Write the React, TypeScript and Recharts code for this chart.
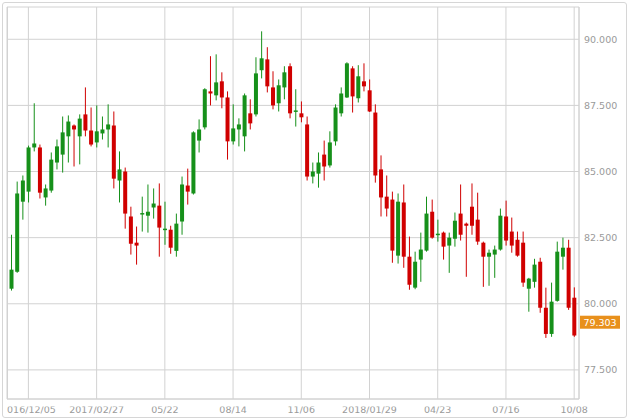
import React from 'react';
import { ComposedChart, Bar, XAxis, YAxis, CartesianGrid, ReferenceLine } from 'recharts';

// weekly candles, 2016/11/14 .. 2018/10/08
const weeks = [
  '2016/11/14', '2016/11/21', '2016/11/28', '2016/12/05', '2016/12/12', '2016/12/19', '2016/12/26',
  '2017/01/02', '2017/01/09', '2017/01/16', '2017/01/23', '2017/01/30', '2017/02/06', '2017/02/13',
  '2017/02/20', '2017/02/27', '2017/03/06', '2017/03/13', '2017/03/20', '2017/03/27', '2017/04/03',
  '2017/04/10', '2017/04/17', '2017/04/24', '2017/05/01', '2017/05/08', '2017/05/15', '2017/05/22',
  '2017/05/29', '2017/06/05', '2017/06/12', '2017/06/19', '2017/06/26', '2017/07/03', '2017/07/10',
  '2017/07/17', '2017/07/24', '2017/07/31', '2017/08/07', '2017/08/14', '2017/08/21', '2017/08/28',
  '2017/09/04', '2017/09/11', '2017/09/18', '2017/09/25', '2017/10/02', '2017/10/09', '2017/10/16',
  '2017/10/23', '2017/10/30', '2017/11/06', '2017/11/13', '2017/11/20', '2017/11/27', '2017/12/04',
  '2017/12/11', '2017/12/18', '2017/12/25', '2018/01/01', '2018/01/08', '2018/01/15', '2018/01/22',
  '2018/01/29', '2018/02/05', '2018/02/12', '2018/02/19', '2018/02/26', '2018/03/05', '2018/03/12',
  '2018/03/19', '2018/03/26', '2018/04/02', '2018/04/09', '2018/04/16', '2018/04/23', '2018/04/30',
  '2018/05/07', '2018/05/14', '2018/05/21', '2018/05/28', '2018/06/04', '2018/06/11', '2018/06/18',
  '2018/06/25', '2018/07/02', '2018/07/09', '2018/07/16', '2018/07/23', '2018/07/30', '2018/08/06',
  '2018/08/13', '2018/08/20', '2018/08/27', '2018/09/03', '2018/09/10', '2018/09/17', '2018/09/24',
  '2018/10/01', '2018/10/08',
];

const opens = [
  80.57, 81.21, 83.86, 84.24, 85.91, 85.91, 84.02, 84.28, 85.34, 85.64,
  86.33, 86.74, 86.33, 87.16, 86.55, 86.10, 86.44, 86.59, 86.74, 84.66,
  85.00, 83.30, 82.31, 83.39, 83.33, 83.64, 83.71, 82.82, 82.80, 82.00,
  83.11, 84.47, 84.17, 86.17, 86.67, 88.03, 87.88, 88.41, 87.80, 86.14,
  86.59, 86.33, 87.20, 87.16, 88.83, 89.24, 88.18, 87.58, 88.18, 88.98,
  87.27, 87.20, 86.78, 84.81, 84.92, 85.64, 85.23, 86.14, 87.20, 87.80,
  88.90, 87.77, 88.41, 88.07, 87.23, 85.08, 84.05, 83.94, 81.82, 83.83,
  81.78, 80.61, 81.67, 82.01, 83.48, 82.63, 82.69, 82.20, 82.46, 83.41,
  83.03, 83.67, 83.18, 82.31, 81.78, 81.86, 82.05, 83.30, 82.73, 82.42,
  82.31, 80.57, 80.83, 81.59, 79.85, 78.86, 80.11, 81.78, 82.12, 80.23,
];

const highs = [
  82.61, 84.62, 84.85, 85.98, 87.58, 86.02, 84.51, 85.72, 86.21, 87.08,
  87.12, 86.78, 87.16, 88.18, 87.42, 87.50, 87.08, 87.54, 87.27, 85.76,
  85.15, 83.67, 82.92, 84.05, 84.51, 84.36, 84.55, 83.86, 82.95, 83.41,
  84.81, 85.11, 86.52, 86.97, 88.15, 89.36, 89.43, 88.75, 88.03, 87.54,
  87.01, 87.95, 87.73, 89.32, 90.30, 89.70, 88.79, 88.48, 88.98, 89.09,
  88.11, 87.65, 87.08, 85.34, 85.72, 86.17, 86.52, 87.54, 88.18, 89.13,
  88.98, 89.02, 89.09, 88.48, 87.54, 85.61, 84.85, 84.24, 84.17, 84.51,
  82.54, 81.97, 82.69, 84.05, 83.94, 83.18, 82.73, 82.69, 83.45, 84.51,
  83.07, 84.55, 84.20, 82.35, 82.05, 82.20, 83.60, 83.90, 83.26, 82.73,
  82.73, 80.98, 81.70, 81.74, 80.61, 80.80, 82.35, 82.50, 82.42, 80.62,
];

const lows = [
  80.50, 81.17, 83.18, 83.83, 85.76, 83.98, 83.71, 84.20, 85.08, 84.96,
  85.34, 85.19, 85.27, 86.33, 85.95, 85.91, 86.21, 85.91, 84.36, 83.83,
  82.84, 81.86, 81.48, 82.73, 82.69, 83.22, 81.78, 82.23, 81.89, 81.78,
  82.61, 83.75, 84.13, 85.72, 86.59, 87.50, 87.69, 87.39, 85.45, 86.02,
  85.95, 85.76, 86.59, 87.08, 88.52, 87.99, 87.35, 87.27, 87.73, 87.01,
  86.70, 86.86, 84.66, 84.55, 84.39, 84.66, 85.15, 85.98, 87.08, 87.78,
  87.23, 87.61, 88.03, 87.25, 84.58, 83.30, 83.30, 81.55, 81.52, 81.36,
  80.53, 80.55, 80.83, 81.97, 82.46, 82.35, 81.67, 81.17, 82.16, 82.39,
  81.02, 82.61, 82.23, 80.64, 80.68, 80.98, 82.01, 82.20, 81.93, 81.78,
  80.64, 79.70, 80.61, 79.66, 78.71, 78.75, 80.08, 81.29, 79.77, 78.75,
];

const closes = [
  81.29, 84.17, 84.66, 85.91, 86.06, 84.20, 84.36, 85.45, 85.95, 86.48,
  86.89, 86.59, 87.00, 86.55, 86.02, 86.52, 86.59, 86.78, 84.73, 85.08,
  83.41, 82.27, 82.20, 83.43, 83.48, 83.79, 82.88, 82.84, 82.12, 83.03,
  84.51, 84.24, 86.48, 86.59, 88.11, 87.95, 88.37, 87.80, 86.14, 86.63,
  86.78, 87.88, 86.82, 88.71, 89.28, 88.22, 87.50, 88.26, 88.75, 87.20,
  87.31, 87.05, 84.81, 85.00, 85.34, 85.19, 86.10, 87.42, 87.95, 89.09,
  87.84, 88.60, 88.22, 87.27, 84.85, 84.02, 83.60, 82.01, 83.86, 81.78,
  80.72, 81.59, 82.05, 83.41, 82.50, 82.65, 82.16, 82.50, 83.14, 82.61,
  82.95, 82.95, 82.35, 81.78, 81.93, 82.05, 83.33, 82.39, 82.20, 81.82,
  80.80, 80.95, 81.48, 79.85, 78.86, 80.08, 81.97, 82.12, 79.85, 78.80,
];

const tickWeeks = ['2016/12/05', '2017/02/27', '2017/05/22', '2017/08/14', '2017/11/06', '2018/01/29', '2018/04/23', '2018/07/16', '2018/10/08'];
const tickLabels = ['2016/12/05', '2017/02/27', '05/22', '08/14', '11/06', '2018/01/29', '04/23', '07/16', '10/08'];
const priceTicks = [77.5, 80, 82.5, 85, 87.5, 90];
const lastPrice = 79.303;

const data = weeks.map((week, i) => ({
  week,
  open: opens[i],
  high: highs[i],
  low: lows[i],
  close: closes[i],
  range: [lows[i], highs[i]],
}));

const UP = '#16901a';
const DOWN = '#d00000';
const GRID = '#d2d2d2';
const LABEL = '#9a9a9a';
const FONT = '"DejaVu Sans", Verdana, sans-serif';
const MARGIN = { top: 7, right: 0, bottom: 0, left: 7 };

const Candle = (props: any) => {
  const { x, y, width, height } = props;
  const p = props.payload || props;
  const top = Math.min(y, y + height);
  const span = Math.abs(height);
  const perUnit = span / (p.high - p.low || 1);
  const toY = (v: number) => top + (p.high - v) * perUnit;
  const color = p.close >= p.open ? UP : DOWN;
  const cx = x + width / 2;
  const bodyTop = toY(Math.max(p.open, p.close));
  const bodyH = Math.max(1.5, Math.abs(toY(p.open) - toY(p.close)));
  return (
    <g>
      <line x1={cx} x2={cx} y1={top} y2={top + span} stroke={color} strokeWidth={1} />
      <rect x={cx - 2} y={bodyTop} width={4} height={bodyH} fill={color} />
    </g>
  );
};

const XTick = (props: any) => {
  const { x, y, payload } = props;
  const label = tickLabels[tickWeeks.indexOf(payload.value)];
  // labels are clipped at the left edge of the plot
  return (
    <svg x={MARGIN.left} y={y} width={620} height={14} overflow="hidden">
      <text x={x - MARGIN.left} y={0} dy="0.71em" textAnchor="middle" fill={LABEL} fontSize={9.5} fontFamily={FONT}>
        {label}
      </text>
    </svg>
  );
};

const PriceTag = (props: any) => {
  const vb = props.viewBox;
  const x = vb.x + vb.width + 1;
  const y = vb.y;
  return (
    <g>
      <rect x={x} y={y - 6.5} width={40} height={13} fill="#e8901c" />
      <text x={x + 20} y={y} dy="0.355em" textAnchor="middle" fill="#fff" fontSize={9.5} fontFamily={FONT}>
        {lastPrice.toFixed(3)}
      </text>
    </g>
  );
};

export default function App() {
  return (
    <div style={{ position: 'absolute', left: 0, top: 0, width: 630, height: 420, background: '#fff', fontFamily: FONT }}>
      <ComposedChart width={630} height={420} data={data} margin={MARGIN}>
        <CartesianGrid stroke={GRID} />
        <XAxis
          dataKey="week"
          ticks={tickWeeks}
          interval={0}
          height={21}
          padding={{ left: 1.5, right: 2 }}
          tick={<XTick />}
          tickLine={false}
          tickSize={0}
          tickMargin={7.6}
          axisLine={{ stroke: GRID }}
        />
        <YAxis
          orientation="right"
          width={51}
          domain={[76.4, 91.22]}
          ticks={priceTicks}
          tickFormatter={(v: number) => v.toFixed(3)}
          tick={{ fill: LABEL, fontSize: 9.5, fontFamily: FONT }}
          tickLine={false}
          tickSize={0}
          tickMargin={5}
          axisLine={{ stroke: GRID }}
        />
        <Bar dataKey="range" barSize={4} shape={<Candle />} isAnimationActive={false} />
        <ReferenceLine y={lastPrice} stroke="none" ifOverflow="visible" label={<PriceTag />} />
      </ComposedChart>
      <div style={{ position: 'absolute', left: MARGIN.left, top: MARGIN.top, width: 1, height: 392, background: GRID }} />
      <div style={{ position: 'absolute', left: 2, top: 2, width: 623, height: 414, border: '1px solid #d6d6d6', borderRadius: 3, pointerEvents: 'none' }} />
    </div>
  );
}
